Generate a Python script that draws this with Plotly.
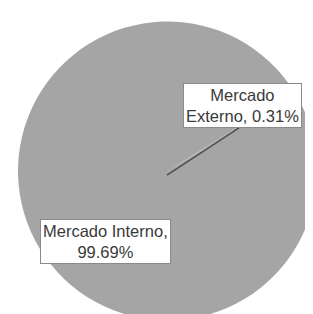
import plotly.graph_objects as go

labels = ["Mercado Externo", "Mercado Interno"]
values = [0.31, 99.69]
label_text = ["Mercado<br>Externo, 0.31%", "Mercado Interno,<br>99.69%"]

fig = go.Figure()
fig.add_trace(go.Pie(
    labels=labels, values=values,
    sort=False, direction="clockwise", rotation=58,
    marker=dict(colors=["#a5a5a5", "#a5a5a5"], line=dict(width=0)),
    textinfo="none", hoverinfo="label+percent", showlegend=False,
    domain=dict(x=[0.032, 0.987], y=[0.003, 0.959]),
))

fig.add_shape(type="line", xref="paper", yref="paper",
              x0=0.508, y0=0.468, x1=0.738, y1=0.618,
              line=dict(color="#505050", width=1.6))

font = dict(family="Liberation Sans, Arial, sans-serif", size=16.5, color="#3a3a3a")
fig.add_annotation(xref="paper", yref="paper", x=0.748, y=0.691,
                   xanchor="center", yanchor="middle",
                   text=label_text[0], showarrow=False, font=font,
                   bgcolor="white", bordercolor="#8a8a8a", borderwidth=1, borderpad=2)
fig.add_annotation(xref="paper", yref="paper", x=0.311, y=0.255,
                   xanchor="center", yanchor="middle",
                   text=label_text[1], showarrow=False, font=font,
                   bgcolor="white", bordercolor="#8a8a8a", borderwidth=1, borderpad=2)

fig.update_layout(width=313, height=314, margin=dict(l=0, r=0, t=0, b=0),
                  paper_bgcolor="white", plot_bgcolor="white")
fig.write_html("out.html")
